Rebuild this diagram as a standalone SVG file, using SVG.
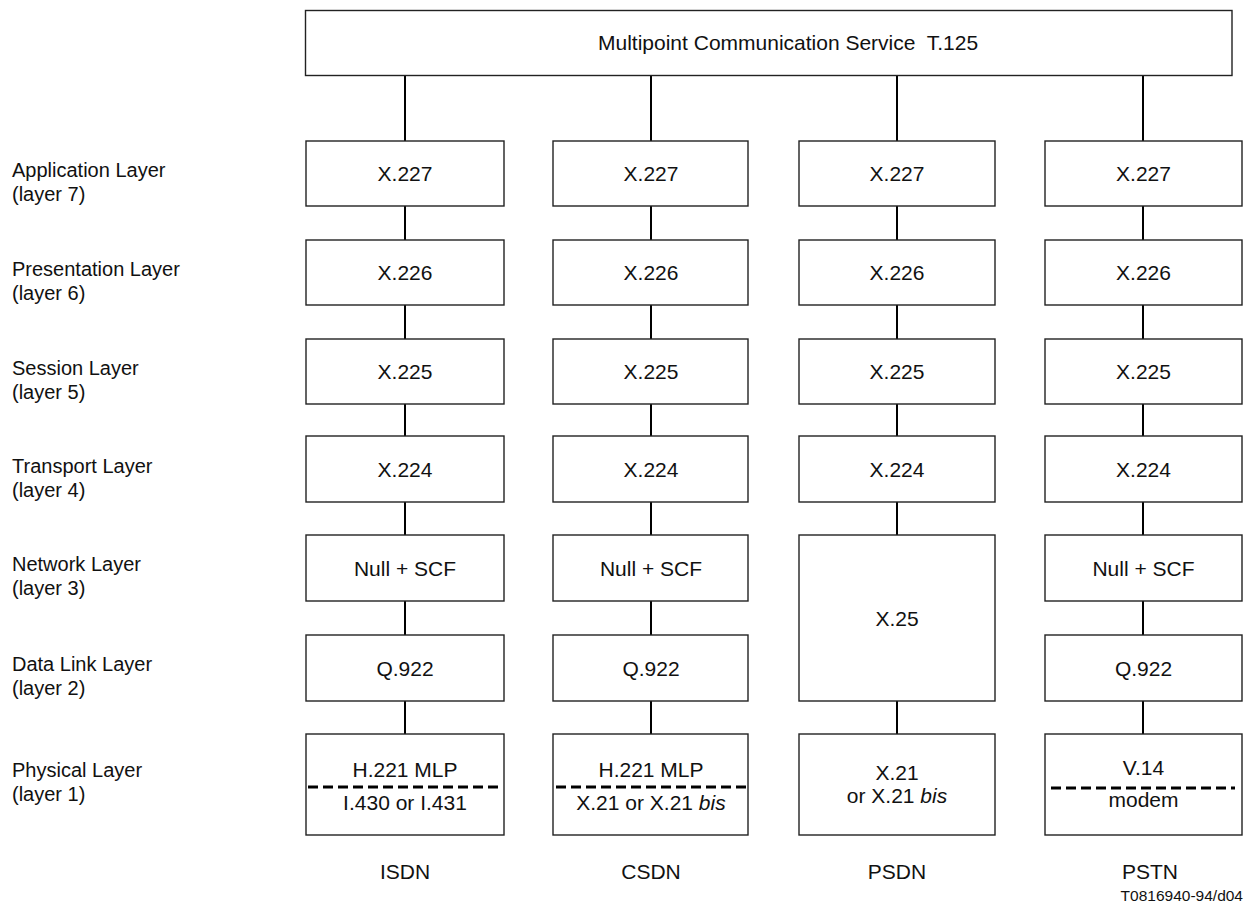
<svg xmlns="http://www.w3.org/2000/svg" width="1249" height="906" viewBox="0 0 1249 906">
<style>
.box{fill:#fff;stroke:#222;stroke-width:1.4}
.t{font-family:"Liberation Sans",Arial,sans-serif;font-size:21px;fill:#111;text-anchor:middle}
.lbl{font-family:"Liberation Sans",Arial,sans-serif;font-size:20px;fill:#111}
.con{stroke:#000;stroke-width:2;fill:none}
.dash{stroke:#000;stroke-width:3;stroke-dasharray:10 5;fill:none}
.it{font-style:italic}
</style>
<rect width="1249" height="906" fill="#fff"/>
<g id="connectors">
<path class="con" d="M405 75V141M405 206V240M405 305V339M405 404V436M405 502V535M405 601V635M405 701V734"/>
<path class="con" d="M651 75V141M651 206V240M651 305V339M651 404V436M651 502V535M651 601V635M651 701V734"/>
<path class="con" d="M897 75V141M897 206V240M897 305V339M897 404V436M897 502V535M897 701V734"/>
<path class="con" d="M1143 75V141M1143 206V240M1143 305V339M1143 404V436M1143 502V535M1143 601V635M1143 701V734"/>
</g>
<g id="mcs"><rect class="box" x="305.5" y="10.5" width="926.5" height="65"/><text class="t" x="598" y="50" style="text-anchor:start" xml:space="preserve">Multipoint Communication Service  T.125</text></g>
<g id="labels">
<text class="lbl" x="12" y="177">Application Layer</text><text class="lbl" x="12" y="201">(layer 7)</text>
<text class="lbl" x="12" y="276">Presentation Layer</text><text class="lbl" x="12" y="300">(layer 6)</text>
<text class="lbl" x="12" y="375">Session Layer</text><text class="lbl" x="12" y="399">(layer 5)</text>
<text class="lbl" x="12" y="473">Transport Layer</text><text class="lbl" x="12" y="497">(layer 4)</text>
<text class="lbl" x="12" y="571">Network Layer</text><text class="lbl" x="12" y="595">(layer 3)</text>
<text class="lbl" x="12" y="671">Data Link Layer</text><text class="lbl" x="12" y="695">(layer 2)</text>
<text class="lbl" x="12" y="777">Physical Layer</text><text class="lbl" x="12" y="801">(layer 1)</text>
</g>
<!-- column 1 ISDN -->
<g id="isdn-x227"><rect class="box" x="306" y="141" width="198" height="65"/><text class="t" x="405" y="181">X.227</text></g>
<g id="isdn-x226"><rect class="box" x="306" y="240" width="198" height="65"/><text class="t" x="405" y="280">X.226</text></g>
<g id="isdn-x225"><rect class="box" x="306" y="339" width="198" height="65"/><text class="t" x="405" y="379">X.225</text></g>
<g id="isdn-x224"><rect class="box" x="306" y="436" width="198" height="66"/><text class="t" x="405" y="477">X.224</text></g>
<g id="isdn-null"><rect class="box" x="306" y="535" width="198" height="66"/><text class="t" x="405" y="576">Null + SCF</text></g>
<g id="isdn-q922"><rect class="box" x="306" y="635" width="198" height="66"/><text class="t" x="405" y="676">Q.922</text></g>
<g id="isdn-phys"><rect class="box" x="306" y="734" width="198" height="101"/><text class="t" x="405" y="777">H.221 MLP</text><path class="dash" d="M308 787H503"/><text class="t" x="405" y="810">I.430 or I.431</text></g>
<!-- column 2 CSDN -->
<g id="csdn-x227"><rect class="box" x="553" y="141" width="195" height="65"/><text class="t" x="651" y="181">X.227</text></g>
<g id="csdn-x226"><rect class="box" x="553" y="240" width="195" height="65"/><text class="t" x="651" y="280">X.226</text></g>
<g id="csdn-x225"><rect class="box" x="553" y="339" width="195" height="65"/><text class="t" x="651" y="379">X.225</text></g>
<g id="csdn-x224"><rect class="box" x="553" y="436" width="195" height="66"/><text class="t" x="651" y="477">X.224</text></g>
<g id="csdn-null"><rect class="box" x="553" y="535" width="195" height="66"/><text class="t" x="651" y="576">Null + SCF</text></g>
<g id="csdn-q922"><rect class="box" x="553" y="635" width="195" height="66"/><text class="t" x="651" y="676">Q.922</text></g>
<g id="csdn-phys"><rect class="box" x="553" y="734" width="195" height="101"/><text class="t" x="651" y="777">H.221 MLP</text><path class="dash" d="M556 787H747"/><text class="t" x="651" y="810">X.21 or X.21 <tspan class="it">bis</tspan></text></g>
<!-- column 3 PSDN -->
<g id="psdn-x227"><rect class="box" x="799" y="141" width="196" height="65"/><text class="t" x="897" y="181">X.227</text></g>
<g id="psdn-x226"><rect class="box" x="799" y="240" width="196" height="65"/><text class="t" x="897" y="280">X.226</text></g>
<g id="psdn-x225"><rect class="box" x="799" y="339" width="196" height="65"/><text class="t" x="897" y="379">X.225</text></g>
<g id="psdn-x224"><rect class="box" x="799" y="436" width="196" height="66"/><text class="t" x="897" y="477">X.224</text></g>
<g id="psdn-x25"><rect class="box" x="799" y="535" width="196" height="166"/><text class="t" x="897" y="626">X.25</text></g>
<g id="psdn-phys"><rect class="box" x="799" y="734" width="196" height="101"/><text class="t" x="897" y="780">X.21</text><text class="t" x="897" y="803">or X.21 <tspan class="it">bis</tspan></text></g>
<!-- column 4 PSTN -->
<g id="pstn-x227"><rect class="box" x="1045" y="141" width="197" height="65"/><text class="t" x="1143.5" y="181">X.227</text></g>
<g id="pstn-x226"><rect class="box" x="1045" y="240" width="197" height="65"/><text class="t" x="1143.5" y="280">X.226</text></g>
<g id="pstn-x225"><rect class="box" x="1045" y="339" width="197" height="65"/><text class="t" x="1143.5" y="379">X.225</text></g>
<g id="pstn-x224"><rect class="box" x="1045" y="436" width="197" height="66"/><text class="t" x="1143.5" y="477">X.224</text></g>
<g id="pstn-null"><rect class="box" x="1045" y="535" width="197" height="66"/><text class="t" x="1143.5" y="576">Null + SCF</text></g>
<g id="pstn-q922"><rect class="box" x="1045" y="635" width="197" height="66"/><text class="t" x="1143.5" y="676">Q.922</text></g>
<g id="pstn-phys"><rect class="box" x="1045" y="734" width="197" height="101"/><text class="t" x="1143.5" y="775">V.14</text><path class="dash" d="M1051 788H1235"/><text class="t" x="1143.5" y="807">modem</text></g>
<g id="networks">
<text class="t" x="405" y="879">ISDN</text>
<text class="t" x="651" y="879">CSDN</text>
<text class="t" x="897" y="879">PSDN</text>
<text class="t" x="1150" y="879">PSTN</text>
<text class="lbl" x="1243" y="901" style="text-anchor:end;font-size:15.5px">T0816940-94/d04</text>
</g>
</svg>
